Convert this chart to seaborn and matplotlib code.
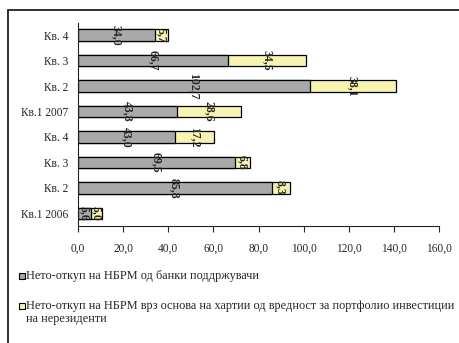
import matplotlib
matplotlib.use("Agg")
import matplotlib.pyplot as plt
from matplotlib.patches import Rectangle
import seaborn as sns
import pandas as pd

# Quarterly net purchases of the NBRM (millions), top row first
periods = ["2007Q4", "2007Q3", "2007Q2", "2007Q1", "2006Q4", "2006Q3", "2006Q2", "2006Q1"]
period_labels = ["Кв. 4", "Кв. 3", "Кв. 2", "Кв.1 2007", "Кв. 4", "Кв. 3", "Кв. 2", "Кв.1 2006"]
banks = [34.0, 66.7, 102.7, 43.8, 43.0, 69.5, 85.8, 5.6]
portfolio = [5.7, 34.5, 38.1, 28.6, 17.2, 6.8, 8.3, 5.0]
x_ticks = [0, 20, 40, 60, 80, 100, 120, 140, 160]
series_names = [
    "Нето-откуп на НБРМ од банки поддржувачи",
    "Нето-откуп на НБРМ врз основа на хартии од вредност за портфолио инвестиции\nна нерезиденти",
]

GRAY = "#a9a9a9"
YELLOW = "#f7f4b2"

df = pd.DataFrame({"period": periods, "banks": banks, "portfolio": portfolio})
df["total"] = df["banks"] + df["portfolio"]

sns.set_style("white")
plt.rcParams["font.family"] = ["Liberation Serif", "DejaVu Serif"]

fig = plt.figure(figsize=(4.59, 3.43), dpi=100)
ax = fig.add_axes([78 / 459, 1 - 226 / 343, (439 - 78) / 459, (226 - 22.5) / 343])

# stacked bars: full total in yellow, bank part drawn over it in gray
sns.barplot(data=df, y="period", x="total", order=periods, color=YELLOW,
            saturation=1, width=0.45, edgecolor="black", linewidth=0.9, ax=ax)
sns.barplot(data=df, y="period", x="banks", order=periods, color=GRAY,
            saturation=1, width=0.45, edgecolor="black", linewidth=0.9, ax=ax)

def fmt(v):
    return f"{v:.1f}".replace(".", ",")

for i, (b, p) in enumerate(zip(banks, portfolio)):
    ax.text(b / 2, i, fmt(b), rotation=-90, ha="center", va="center",
            fontsize=8.5, fontweight="bold")
    ax.text(b + p / 2, i, fmt(p), rotation=-90, ha="center", va="center",
            fontsize=8.5, fontweight="bold")

ax.set_xlim(0, 160)
ax.set_ylim(len(periods) - 0.5, -0.5)
ax.set_xticks(x_ticks)
ax.set_xticklabels([fmt(v) for v in x_ticks], fontsize=8.3)
ax.set_yticks(range(len(periods)))
ax.set_yticklabels(period_labels, fontsize=8.3)
ax.set_xlabel("")
ax.set_ylabel("")
ax.tick_params(axis="x", length=4, width=0.8, pad=8, direction="out", bottom=True)
ax.tick_params(axis="y", length=0, pad=7.2)
for s in ["top", "right"]:
    ax.spines[s].set_visible(False)
for s in ["left", "bottom"]:
    ax.spines[s].set_color("#222222")
    ax.spines[s].set_linewidth(0.8)

# outer chart frame
fig.patches.append(Rectangle((8 / 459, -0.1), 1.2, 1 - 10 / 343 + 0.1,
                             transform=fig.transFigure, fill=False,
                             edgecolor="#222222", linewidth=1.3))

# legend entries below the plot
legend_rows = [(1 - 279 / 343, GRAY), (1 - 309 / 343, YELLOW)]
for (y, col), name in zip(legend_rows, series_names):
    fig.patches.append(Rectangle((19 / 459, y), 6 / 459, 6 / 343,
                                 transform=fig.transFigure, facecolor=col,
                                 edgecolor="black", linewidth=0.8))
    fig.text(26 / 459, y + 9.5 / 343, name, fontsize=8.8, va="top", ha="left",
             linespacing=1.2)

fig.savefig("out.png", dpi=100)
